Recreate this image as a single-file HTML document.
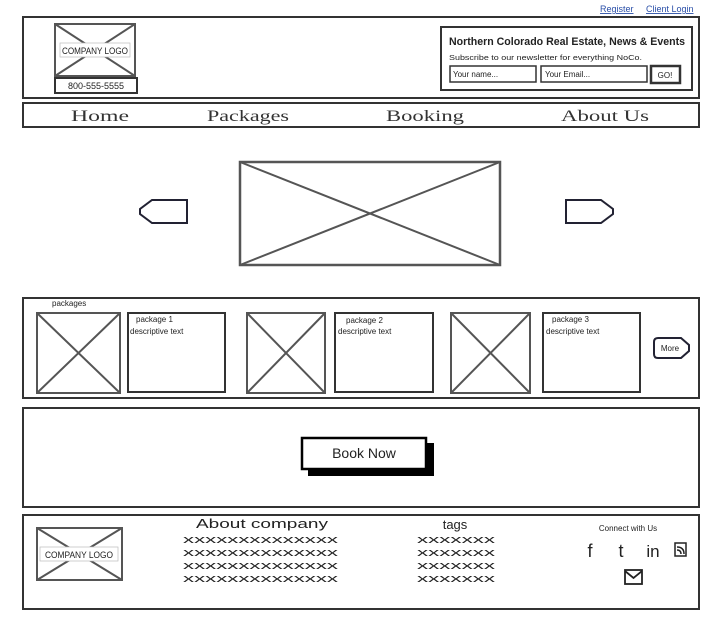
<!DOCTYPE html>
<html><head><meta charset="utf-8"><style>
html,body{margin:0;padding:0;background:#fff;}
svg{display:block;}
text{font-family:"Liberation Sans",sans-serif;fill:#222;}
.serif{font-family:"Liberation Serif",serif;fill:#333;}
</style></head><body>
<svg width="709" height="632" viewBox="0 0 709 632" xmlns="http://www.w3.org/2000/svg">
<g fill="none" stroke="#333" stroke-width="2">
<rect x="23" y="17" width="676" height="81"/>
<rect x="55" y="24" width="80" height="52" stroke="#555"/>
<line x1="55" y1="24" x2="135" y2="76" stroke="#555"/>
<line x1="135" y1="24" x2="55" y2="76" stroke="#555"/>
<rect x="55" y="78" width="82" height="15"/>
<rect x="441" y="27" width="251" height="63"/>
<rect x="450" y="66" width="86" height="16" stroke-width="1.5"/>
<rect x="541" y="66" width="106" height="16" stroke-width="1.5"/>
<rect x="651" y="66" width="29" height="17" stroke-width="2.5"/>
<rect x="23" y="103" width="676" height="24"/>
<rect x="240" y="162" width="260" height="103" stroke="#555" stroke-width="2.5"/>
<line x1="240" y1="162" x2="500" y2="265" stroke="#555"/>
<line x1="500" y1="162" x2="240" y2="265" stroke="#555"/>
<path d="M152 200 H187 V223 H152 L140 214 V209 Z" stroke="#223"/>
<path d="M566 200 H601 L613 209 V214 L601 223 H566 Z" stroke="#223"/>
<rect x="23" y="298" width="676" height="100"/>
<g stroke="#555">
<rect x="37" y="313" width="83" height="80"/><line x1="37" y1="313" x2="120" y2="393"/><line x1="120" y1="313" x2="37" y2="393"/>
<rect x="247" y="313" width="78" height="80"/><line x1="247" y1="313" x2="325" y2="393"/><line x1="325" y1="313" x2="247" y2="393"/>
<rect x="451" y="313" width="79" height="80"/><line x1="451" y1="313" x2="530" y2="393"/><line x1="530" y1="313" x2="451" y2="393"/>
</g>
<rect x="128" y="313" width="97" height="79"/>
<rect x="335" y="313" width="98" height="79"/>
<rect x="543" y="313" width="97" height="79"/>
<path d="M658 338 H681 L689 345 V351 L681 358 H658 Q654 358 654 354 V342 Q654 338 658 338 Z" stroke="#223"/>
<rect x="23" y="408" width="676" height="99"/>
<rect x="23" y="515" width="676" height="94"/>
<rect x="37" y="528" width="85" height="52" stroke="#555"/>
<line x1="37" y1="528" x2="122" y2="580" stroke="#555"/>
<line x1="122" y1="528" x2="37" y2="580" stroke="#555"/>
</g>
<rect x="308" y="443" width="126" height="33" fill="#000"/>
<rect x="302" y="438" width="124" height="31" fill="#fff" stroke="#000" stroke-width="2.5"/>
<text x="364" y="458" font-size="14" text-anchor="middle">Book Now</text>
<rect x="60" y="43" width="70" height="14" fill="#fff" stroke="#bbb" stroke-width="0.7"/>
<text x="95" y="54" font-size="9" text-anchor="middle" textLength="66" lengthAdjust="spacingAndGlyphs">COMPANY LOGO</text>
<text x="96" y="89" font-size="9" text-anchor="middle">800-555-5555</text>
<rect x="40" y="547" width="78" height="14" fill="#fff" stroke="#bbb" stroke-width="0.7"/>
<text x="79" y="558" font-size="9" text-anchor="middle" textLength="68" lengthAdjust="spacingAndGlyphs">COMPANY LOGO</text>
<text x="600" y="12" font-size="9" style="fill:#2a4fa8;text-decoration:underline">Register</text>
<text x="646" y="12" font-size="9" style="fill:#2a4fa8;text-decoration:underline">Client Login</text>
<text x="449" y="45" font-size="11" font-weight="bold" textLength="236" lengthAdjust="spacingAndGlyphs">Northern Colorado Real Estate, News &amp; Events</text>
<text x="449" y="60" font-size="7.5" textLength="193" lengthAdjust="spacingAndGlyphs">Subscribe to our newsletter for everything NoCo.</text>
<text x="453" y="77" font-size="8">Your name...</text>
<text x="545" y="77" font-size="8">Your Email...</text>
<text x="665" y="78" font-size="8" text-anchor="middle">GO!</text>
<text class="serif" x="100" y="121" font-size="16" text-anchor="middle" textLength="58" lengthAdjust="spacingAndGlyphs">Home</text>
<text class="serif" x="248" y="121" font-size="16" text-anchor="middle" textLength="82" lengthAdjust="spacingAndGlyphs">Packages</text>
<text class="serif" x="425" y="121" font-size="16" text-anchor="middle" textLength="78" lengthAdjust="spacingAndGlyphs">Booking</text>
<text class="serif" x="605" y="121" font-size="16" text-anchor="middle" textLength="88" lengthAdjust="spacingAndGlyphs">About Us</text>
<text x="52" y="306" font-size="8">packages</text>
<text x="136" y="322" font-size="8">package 1</text>
<text x="130" y="334" font-size="8">descriptive text</text>
<text x="346" y="323" font-size="8">package 2</text>
<text x="338" y="334" font-size="8">descriptive text</text>
<text x="552" y="322" font-size="8">package 3</text>
<text x="546" y="334" font-size="8">descriptive text</text>
<text x="670" y="351" font-size="8" text-anchor="middle">More</text>
<text x="262" y="528" font-size="13" text-anchor="middle" textLength="132" lengthAdjust="spacingAndGlyphs">About company</text>
<g font-size="11">
<text x="183" y="543" textLength="155" lengthAdjust="spacingAndGlyphs">xxxxxxxxxxxxxx</text>
<text x="183" y="556" textLength="155" lengthAdjust="spacingAndGlyphs">xxxxxxxxxxxxxx</text>
<text x="183" y="569" textLength="155" lengthAdjust="spacingAndGlyphs">xxxxxxxxxxxxxx</text>
<text x="183" y="582" textLength="155" lengthAdjust="spacingAndGlyphs">xxxxxxxxxxxxxx</text>
<text x="417" y="543" textLength="78" lengthAdjust="spacingAndGlyphs">xxxxxxx</text>
<text x="417" y="556" textLength="78" lengthAdjust="spacingAndGlyphs">xxxxxxx</text>
<text x="417" y="569" textLength="78" lengthAdjust="spacingAndGlyphs">xxxxxxx</text>
<text x="417" y="582" textLength="78" lengthAdjust="spacingAndGlyphs">xxxxxxx</text>
</g>
<text x="455" y="529" font-size="13" text-anchor="middle">tags</text>
<text x="628" y="531" font-size="8" text-anchor="middle">Connect with Us</text>
<text x="590" y="557" font-size="18" text-anchor="middle">f</text>
<text x="621" y="557" font-size="18" text-anchor="middle">t</text>
<text x="653" y="557" font-size="17" text-anchor="middle">in</text>
<g fill="none" stroke="#222" stroke-width="1.5">
<rect x="675" y="543" width="11" height="13"/>
<path d="M677 547 Q684 547 684 554 M677 550 Q681 550 681 554"/>
<rect x="625" y="570" width="17" height="14" stroke-width="1.8"/>
<path d="M625 571 L633.5 578 L642 571" stroke-width="1.8"/>
</g>
</svg>
</body></html>
